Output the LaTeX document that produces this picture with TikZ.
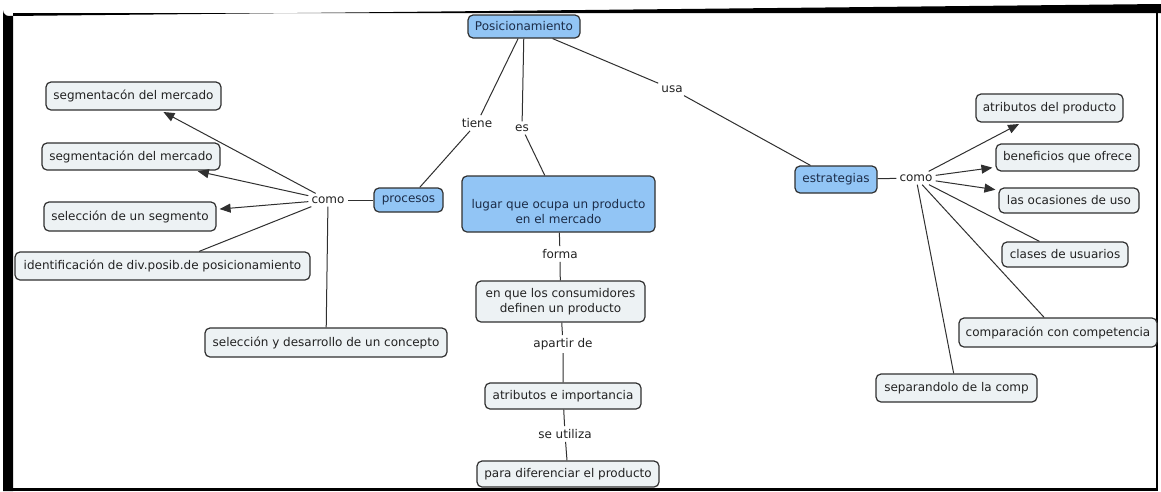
\documentclass[tikz,border=0pt]{standalone}
\usepackage{fontspec}
\setmainfont{DejaVu Sans}
\usetikzlibrary{arrows.meta}
\definecolor{gfill}{HTML}{EDF2F4}
\definecolor{bfill}{HTML}{92C5F5}
\definecolor{edge}{HTML}{303030}
\definecolor{txt}{HTML}{222222}
\definecolor{btxt}{HTML}{1C2C48}
\tikzset{
  box/.style={draw=edge, line width=1.2pt, rounded corners=5pt, inner sep=0pt,
    align=center, font=\fontsize{12}{14.5}\selectfont},
  gbox/.style={box, fill=gfill, text=txt},
  bbox/.style={box, fill=bfill, text=btxt},
  lbl/.style={inner sep=3pt, text=txt, font=\fontsize{12}{14.5}\selectfont},
  con/.style={draw=edge, line width=1pt},
  arr/.style={con, -{Triangle[length=11pt,width=9pt]}, shorten >=3pt},
}
\begin{document}
\begin{tikzpicture}[x=1pt,y=-1pt]
\useasboundingbox (0,0) rectangle (1161,491);
\fill[white] (0,0) rectangle (1161,491);
% frame
\fill[black] (3,10) arc[start angle=180,end angle=90,radius=6] -- (1161,4) -- (1161,13) -- (13,13) -- (13,491) -- (3,491) -- cycle;
\fill[black] (13,487.5) rectangle (1158,491);
\fill[black] (1155.8,13) rectangle (1158,491);
% blue nodes
\node[bbox, minimum width=112, minimum height=23] (pos) at (524,26.5) {Posicionamiento};
\node[bbox, minimum width=69, minimum height=24] (proc) at (408.5,200) {procesos};
\node[bbox, minimum width=193, minimum height=56] (lugar) at (558.5,204) {\rule{0pt}{24pt}lugar que ocupa un producto\\en el mercado};
\node[bbox, minimum width=82, minimum height=27] (estr) at (836,179.5) {estrategias};
% left
\node[gbox, minimum width=175, minimum height=28] (s1) at (133.5,96) {segmentacón del mercado};
\node[gbox, minimum width=178, minimum height=27] (s2) at (131,156.5) {segmentación del mercado};
\node[gbox, minimum width=172, minimum height=29] (s3) at (130,216.5) {selección de un segmento};
\node[gbox, minimum width=295, minimum height=28] (s4) at (162.5,266) {identificación de div.posib.de posicionamiento};
\node[gbox, minimum width=242, minimum height=29] (s5) at (326,342.5) {selección y desarrollo de un concepto};
% center
\node[gbox, minimum width=169, minimum height=41] (c1) at (560.5,301.5) {en que los consumidores\\definen un producto};
\node[gbox, minimum width=156, minimum height=26] (c2) at (563,396) {atributos e importancia};
\node[gbox, minimum width=182, minimum height=26] (c3) at (568,474) {para diferenciar el producto};
% right
\node[gbox, minimum width=147, minimum height=28] (r1) at (1049.5,108) {atributos del producto};
\node[gbox, minimum width=143, minimum height=27] (r2) at (1067.5,157.5) {beneficios que ofrece};
\node[gbox, minimum width=140, minimum height=25] (r3) at (1069,200.5) {las ocasiones de uso};
\node[gbox, minimum width=126, minimum height=25] (r4) at (1065,254.5) {clases de usuarios};
\node[gbox, minimum width=198, minimum height=29] (r5) at (1058,332.5) {comparación con competencia};
\node[gbox, minimum width=161, minimum height=28] (r6) at (956.5,388) {separandolo de la comp};
% labels
\node[lbl] (tiene) at (477,123) {tiene};
\node[lbl] (es) at (522,128) {es};
\node[lbl] (usa) at (672,89) {usa};
\node[lbl] (forma) at (560,254) {forma};
\node[lbl] (apartir) at (563,344) {apartir de};
\node[lbl] (seut) at (565,434) {se utiliza};
\node[lbl] (comoL) at (328,200) {como};
\node[lbl] (comoR) at (916,178) {como};
% connectors
\draw[con] (pos) -- (tiene) -- (proc);
\draw[con] (pos) -- (es) -- (lugar);
\draw[con] (pos) -- (usa) -- (estr);
\draw[con] (proc) -- (comoL);
\draw[arr] (comoL) -- (s1);
\draw[arr] (comoL) -- (s2);
\draw[arr] (comoL) -- (s3);
\draw[con] (comoL) -- (s4);
\draw[con] (comoL) -- (s5);
\draw[con] (lugar) -- (forma) -- (c1);
\draw[con] (c1) -- (apartir) -- (c2);
\draw[con] (c2) -- (seut) -- (c3);
\draw[con] (estr) -- (comoR);
\draw[arr] (comoR) -- (r1);
\draw[arr] (comoR) -- (r2);
\draw[arr] (comoR) -- (r3);
\draw[con] (comoR) -- (r4);
\draw[con] (comoR) -- (r5);
\draw[con] (comoR) -- (r6);
\end{tikzpicture}
\end{document}
